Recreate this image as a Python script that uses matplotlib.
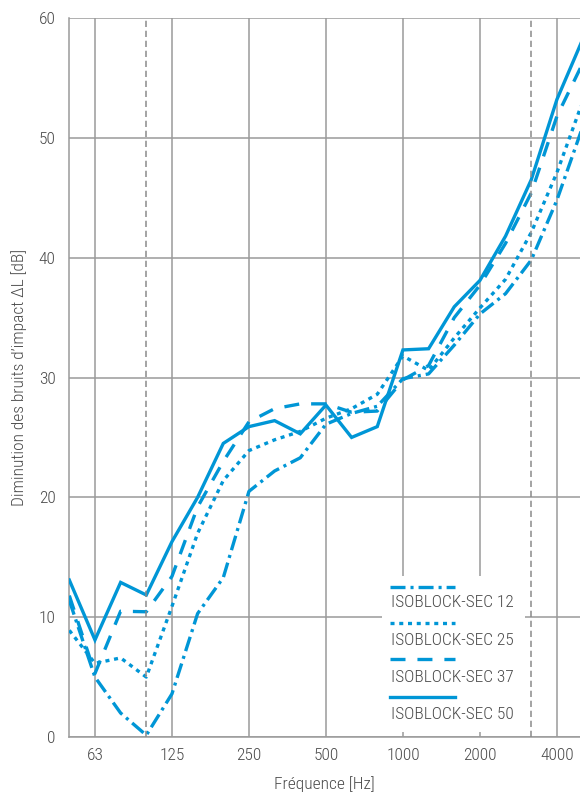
import matplotlib
matplotlib.use("Agg")
import matplotlib.pyplot as plt
from matplotlib import font_manager
from matplotlib.font_manager import FontProperties
from matplotlib.patches import Rectangle
from matplotlib.lines import Line2D

# third-octave bands, 50 Hz .. 5000 Hz
freqs = [50, 63, 80, 100, 125, 160, 200, 250, 315, 400, 500,
         630, 800, 1000, 1250, 1600, 2000, 2500, 3150, 4000, 5000]
tick_freqs = [63, 125, 250, 500, 1000, 2000, 4000]
limit_freqs = [100, 3150]

sec12 = [11.4, 5.0, 2.0, 0.15, 3.6, 10.3, 13.3, 20.5, 22.2, 23.3, 26.1,
         27.0, 27.6, 29.9, 30.3, 32.7, 35.3, 37.0, 39.8, 44.8, 50.9]
sec25 = [8.9, 6.15, 6.6, 5.0, 10.9, 17.0, 21.4, 23.9, 24.8, 25.5, 26.6,
         27.4, 28.6, 31.8, 30.6, 33.3, 35.8, 38.2, 42.1, 47.1, 53.0]
sec37 = [11.8, 5.3, 10.5, 10.45, 13.4, 19.2, 23.0, 26.3, 27.4, 27.8, 27.8,
         27.1, 27.2, 29.8, 31.0, 35.0, 37.7, 41.2, 45.4, 51.8, 56.2]
sec50 = [13.1, 8.1, 12.9, 11.85, 16.3, 20.0, 24.5, 25.9, 26.4, 25.3, 27.7,
         25.0, 25.9, 32.3, 32.4, 35.9, 38.1, 41.8, 46.5, 53.2, 58.2]

labels = ["ISOBLOCK-SEC 12", "ISOBLOCK-SEC 25",
          "ISOBLOCK-SEC 37", "ISOBLOCK-SEC 50"]

BLUE = "#0096d6"
GRID = "#9a9a9a"
TXT = "#4a4a4a"


def pick_font():
    # a narrow / condensed light face is closest to the original lettering
    pref = ["Liberation Sans Narrow", "Roboto Condensed", "Open Sans Condensed",
            "Noto Sans Condensed", "DejaVu Sans Condensed"]
    best = None
    for f in font_manager.fontManager.ttflist:
        fn = f.fname.lower()
        if f.style != "normal" or "italic" in fn or "oblique" in fn:
            continue
        if any(k in fn for k in ["bold", "black", "medium", "semi", "thin", "extra"]):
            continue
        if not ("narrow" in fn or "condensed" in fn or "condensed" in str(f.stretch)):
            continue
        name = f.name if "Condensed" in f.name or "Narrow" in f.name else f.name + " Condensed"
        rank = pref.index(name) if name in pref else len(pref)
        key = (rank, 0 if "light" in fn else 1)
        if best is None or key < best[0]:
            best = (key, f.fname)
    if best is None:
        return FontProperties(family="DejaVu Sans")
    return FontProperties(fname=best[1])


fp = pick_font()
plt.rcParams["lines.scale_dashes"] = False

styles = [
    (0, (10.8, 3.6, 2.2, 3.6)),
    (0, (2.9, 3.4)),
    (0, (10.8, 8.6)),
    "-",
]
series = [sec12, sec25, sec37, sec50]

fig = plt.figure(figsize=(5.8, 8.0), dpi=100)

# size the font so that a legend label spans ~124 px as in the original
probe = fig.text(0, 0, labels[0], fontproperties=fp, fontsize=10)
w = probe.get_window_extent(fig.canvas.get_renderer()).width
probe.remove()
FS = min(10 * 124 / w, 12.5)
fp.set_size(FS)

ax = fig.add_axes([69.3 / 580, 63 / 800, 510.7 / 580, 719 / 800])

pos = list(range(len(freqs)))
for vals, ls in zip(series, styles):
    ax.plot(pos, vals, color=BLUE, lw=2.4, ls=ls,
            dash_capstyle="butt", solid_joinstyle="miter", zorder=3)

for f in limit_freqs:
    ax.axvline(freqs.index(f), color="#8a8a8a", lw=1.1,
               ls=(0, (4.5, 2.7)), zorder=5)

ax.set_xlim(0, 19.9)
ax.set_ylim(0, 60)
ax.set_xticks([freqs.index(f) for f in tick_freqs])
ax.set_xticklabels([str(f) for f in tick_freqs], fontproperties=fp, color=TXT)
ax.set_yticks(range(0, 61, 10))
ax.set_yticklabels([str(v) for v in range(0, 61, 10)], fontproperties=fp, color=TXT)
ax.grid(True, color=GRID, lw=1.1, zorder=1)
ax.set_axisbelow(True)
for s in ["top", "right"]:
    ax.spines[s].set_visible(False)
for s in ["left", "bottom"]:
    ax.spines[s].set_color(GRID)
    ax.spines[s].set_linewidth(1.1)
ax.tick_params(length=0, pad=8)
ax.tick_params(axis="y", pad=10)
ax.set_xlabel("Fréquence [Hz]", fontproperties=fp, color=TXT, labelpad=9)
ax.set_ylabel("Diminution des bruits d\u2019impact \u0394L [dB]",
              fontproperties=fp, color=TXT, labelpad=8)

# legend: line sample above each label, on a white box
ax.add_patch(Rectangle((0.612, 0.007), 0.28, 0.217, transform=ax.transAxes,
                       facecolor="white", edgecolor="none", zorder=4))
hy = [0.2086, 0.1586, 0.1085, 0.0556]
ty = [0.1864, 0.1349, 0.0834, 0.0313]
for ls, lab, y1, y2 in zip(styles, labels, hy, ty):
    ax.add_line(Line2D([0.628, 0.755], [y1, y1], transform=ax.transAxes,
                       color=BLUE, lw=2.4, ls=ls,
                       dash_capstyle="butt", zorder=6))
    ax.text(0.630, y2, lab, transform=ax.transAxes, fontproperties=fp,
            color=TXT, va="center", ha="left", zorder=6)

fig.savefig("out.png", dpi=100)
